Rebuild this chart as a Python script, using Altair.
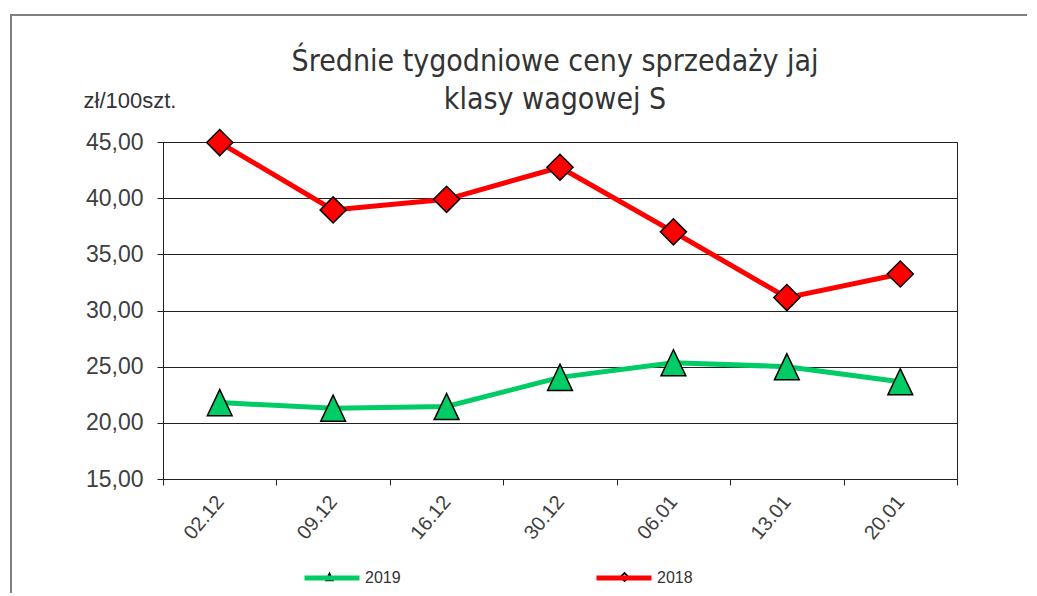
import altair as alt
import pandas as pd

dates = ["02.12", "09.12", "16.12", "30.12", "06.01", "13.01", "20.01"]
values_2019 = [21.8, 21.3, 21.45, 24.05, 25.35, 25.0, 23.65]
values_2018 = [44.95, 38.95, 39.9, 42.75, 37.0, 31.15, 33.25]
series = ["2019", "2018"]
colors = ["#00CC66", "#FF0000"]
triangle = "M0,-1L-0.95,1L0.95,1Z"
y_ticks = [15, 20, 25, 30, 35, 40, 45]
title_lines = ["Średnie tygodniowe ceny sprzedaży jaj", "klasy wagowej S"]

rows = []
for d, v in zip(dates, values_2019):
    rows.append({"date": d, "value": v, "series": "2019"})
for d, v in zip(dates, values_2018):
    rows.append({"date": d, "value": v, "series": "2018"})
df = pd.DataFrame(rows)

x_enc = alt.X(
    "date:N",
    sort=dates,
    scale=alt.Scale(type="band", paddingInner=0, paddingOuter=0),
    axis=alt.Axis(
        title=None,
        tickBand="extent",
        labelAngle=310,
        labelAlign="right",
        labelBaseline="middle",
        labelFontSize=20,
        labelFont="Liberation Sans",
        labelColor="#404040",
        labelPadding=13,
        tickSize=6,
        tickColor="#222222",
        domainColor="#222222",
        grid=False,
    ),
)
y_enc = alt.Y(
    "value:Q",
    scale=alt.Scale(domain=[15, 45], nice=False, zero=False),
    axis=alt.Axis(
        values=y_ticks,
        labelExpr="replace(format(datum.value, '.2f'), '.', ',')",
        labelFontSize=23,
        labelFont="Liberation Sans",
        labelColor="#404040",
        labelPadding=14,
        tickSize=6,
        tickColor="#222222",
        domainColor="#222222",
        grid=True,
        gridColor="#222222",
        gridWidth=1,
        title="zł/100szt.",
        titleAngle=0,
        titleX=-80,
        titleY=-42,
        titleAlign="left",
        titleBaseline="middle",
        titleFont="Liberation Sans",
        titleFontSize=22,
        titleFontWeight="normal",
        titleColor="#333333",
    ),
)
color_enc = alt.Color(
    "series:N",
    scale=alt.Scale(domain=series, range=colors),
    legend=alt.Legend(
        title=None,
        orient="none",
        direction="horizontal",
        legendX=139,
        legendY=406,
        symbolType="stroke",
        symbolSize=3025,
        symbolStrokeWidth=5,
        columnPadding=185,
        labelFontSize=16,
        labelFont="Liberation Sans",
        labelColor="#333333",
        labelOffset=3,
    ),
)

base = alt.Chart(df)
lines = base.mark_line(strokeWidth=5).encode(x=x_enc, y=y_enc, color=color_enc)

pts_2019 = base.transform_filter(alt.datum.series == "2019").mark_point(
    filled=True, fill=colors[0], stroke="black", strokeWidth=1.5, opacity=1,
    size=680, shape=triangle,
).encode(x=alt.X("date:N", sort=dates), y="value:Q")

pts_2018 = base.transform_filter(alt.datum.series == "2018").mark_point(
    filled=True, fill=colors[1], stroke="black", strokeWidth=1.5, opacity=1,
    size=680, shape="diamond",
).encode(x=alt.X("date:N", sort=dates), y="value:Q")

one = pd.DataFrame({"k": [0]})
# small marker glyphs drawn on the legend lines
leg_tri = alt.Chart(one).mark_point(
    filled=False, stroke="black", strokeWidth=1.8, shape=triangle, size=45, opacity=1
).encode(x=alt.value(166.5), y=alt.value(435))
leg_dia = alt.Chart(one).mark_point(
    filled=False, stroke="black", strokeWidth=1.8, shape="diamond", size=60, opacity=1
).encode(x=alt.value(461.5), y=alt.value(435))

frame = alt.Chart(one).mark_rect(
    fill=None, stroke="#808080", strokeWidth=2
).encode(x=alt.value(-152), x2=alt.value(1000), y=alt.value(-127), y2=alt.value(800))

title = alt.Chart(one).mark_text(
    text=title_lines,
    font="DejaVu Sans Condensed",
    fontSize=30,
    color="#333333",
    lineHeight=38,
    align="center",
    baseline="middle",
).encode(x=alt.value(392), y=alt.value(-80))

chart = (
    alt.layer(frame, title, lines, pts_2019, pts_2018, leg_tri, leg_dia)
    .properties(
        width=794,
        height=337,
        padding={"left": 155, "top": 134, "right": 70, "bottom": 114},
        autosize=alt.AutoSizeParams(type="none"),
    )
    .configure_view(stroke="#222222", strokeWidth=1)
)

chart.save("out.html", embed_options={"renderer": "svg", "actions": False})
